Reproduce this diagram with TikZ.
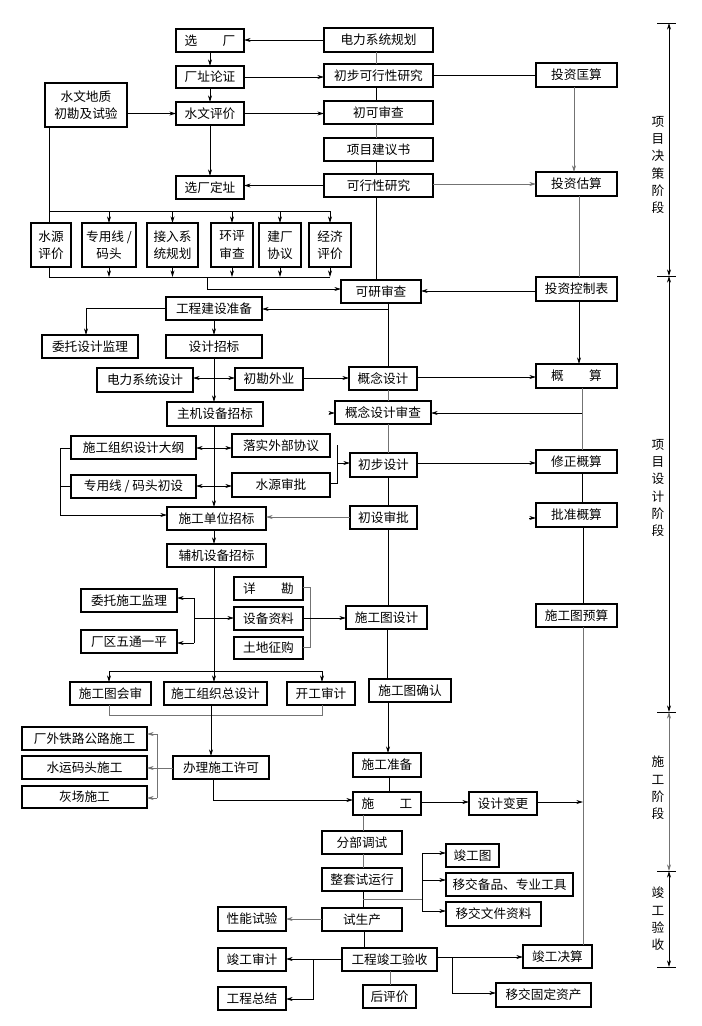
\documentclass[tikz,border=0pt]{standalone}
\usepackage{fontspec}
\setmainfont{Noto Sans CJK SC}
\usetikzlibrary{arrows.meta}
\newcommand\bxfont{\fontsize{9.5}{13}\selectfont}
\newcommand\bx[6]{\node[box,minimum width={(#4-#2)*0.75pt},minimum height={(#5-#3)*0.75pt}] (#1) at ({(#2+#4)/2},{(#3+#5)/2}) {#6};}
\tikzset{
  box/.style={draw,line width=0.9pt,inner sep=0pt,outer sep=0pt,font=\bxfont,align=center},
  ln/.style={line width=0.6pt},
  gl/.style={draw=black!55},
  arr/.style={ln,-{Stealth[length=5pt,width=3pt]}},
  arrb/.style={ln,{Stealth[length=5pt,width=3pt]}-{Stealth[length=5pt,width=3pt]}},
  side/.style={font=\fontsize{9.5}{13}\selectfont,align=center,inner sep=0pt}
}
\begin{document}
\begin{tikzpicture}[x=0.75pt,y=-0.75pt]
\fill[white] (0,0) rectangle (701,1026);
\useasboundingbox (0,0) rectangle (701,1026);
% ---------- decision phase
\bx{xc}{176}{29}{244}{52}{选\hspace{2em}厂}
\bx{czlz}{176}{66}{244}{88}{厂址论证}
\bx{swdz}{45}{83}{127}{127}{水文地质\\初勘及试验}
\bx{swpj}{176}{102}{244}{125}{水文评价}
\bx{xcdz}{176}{176}{244}{199}{选厂定址}
\bx{dlxtgh}{324}{28}{433}{52}{电力系统规划}
\bx{cbkx}{324}{64}{433}{87}{初步可行性研究}
\bx{cksc}{324}{101}{433}{124}{初可审查}
\bx{xmjy}{324}{138}{433}{161}{项目建议书}
\bx{kxx}{324}{174}{433}{197}{可行性研究}
\bx{tzks}{536}{63}{617}{87}{投资匡算}
\bx{tzgs}{536}{172}{617}{196}{投资估算}
\bx{sypj}{31}{223}{71}{267}{水源\\评价}
\bx{zyx}{82}{223}{136}{267}{专用线 /\\码头}
\bx{jrxt}{147}{223}{198}{267}{接入系\\统规划}
\bx{hpsc}{211}{223}{253}{267}{环评\\审查}
\bx{jcxy}{259}{223}{301}{267}{建厂\\协议}
\bx{jjpj}{309}{223}{351}{267}{经济\\评价}
\bx{kysc}{341}{280}{421}{303}{可研审查}
\bx{tzkzb}{536}{277}{617}{301}{投资控制表}
% ---------- design phase
\bx{gcjs}{166}{297}{262}{320}{工程建设准备}
\bx{wtsj}{42}{335}{138}{358}{委托设计监理}
\bx{sjzb}{166}{335}{262}{358}{设计招标}
\bx{dlsj}{97}{368}{193}{392}{电力系统设计}
\bx{ckwy}{235}{368}{303}{390}{初勘外业}
\bx{gnsj}{349}{367}{417}{390}{概念设计}
\bx{gs}{536}{364}{617}{388}{概\hspace{2em}算}
\bx{zjsb}{167}{402}{263}{426}{主机设备招标}
\bx{gnsc}{335}{401}{431}{424}{概念设计审查}
\bx{sgzzdg}{71}{436}{196}{459}{施工组织设计大纲}
\bx{lswb}{232}{434}{330}{457}{落实外部协议}
\bx{cbsj}{350}{453}{417}{477}{初步设计}
\bx{xzgs}{536}{450}{617}{473}{修正概算}
\bx{zyxcs}{71}{475}{196}{498}{专用线 / 码头初设}
\bx{sysp}{232}{473}{330}{497}{水源审批}
\bx{sgdw}{167}{507}{266}{530}{施工单位招标}
\bx{cssp}{350}{506}{417}{529}{初设审批}
\bx{pzgs}{536}{503}{617}{527}{批准概算}
\bx{fjsb}{167}{544}{266}{567}{辅机设备招标}
\bx{xk}{234}{577}{303}{600}{详\hspace{2em}勘}
\bx{sbzl}{234}{607}{303}{630}{设备资料}
\bx{tdzg}{234}{637}{303}{659}{土地征购}
\bx{wtsg}{81}{589}{177}{612}{委托施工监理}
\bx{cqwt}{81}{630}{177}{653}{厂区五通一平}
\bx{sgtsj}{346}{606}{427}{629}{施工图设计}
\bx{sgtys}{536}{604}{617}{627}{施工图预算}
\bx{sgths}{70}{682}{151}{705}{施工图会审}
\bx{sgzzz}{164}{682}{267}{705}{施工组织总设计}
\bx{kgsj}{287}{682}{355}{705}{开工审计}
\bx{sgtqr}{369}{679}{451}{702}{施工图确认}
% ---------- construction phase
\bx{cwtl}{22}{727}{147}{750}{厂外铁路公路施工}
\bx{sym}{22}{756}{147}{779}{水运码头施工}
\bx{hc}{22}{786}{147}{808}{灰场施工}
\bx{blsg}{173}{756}{269}{779}{办理施工许可}
\bx{sgzb}{353}{753}{421}{777}{施工准备}
\bx{sg}{353}{792}{421}{815}{施\hspace{2em}工}
\bx{sjbg}{469}{792}{537}{815}{设计变更}
% ---------- completion
\bx{fbts}{322}{831}{402}{854}{分部调试}
\bx{ztsy}{322}{868}{402}{891}{整套试运行}
\bx{jgt}{446}{844}{499}{867}{竣工图}
\bx{yjbp}{446}{873}{573}{896}{移交备品、专业工具}
\bx{xnsy}{218}{907}{286}{931}{性能试验}
\bx{ssc}{322}{908}{402}{931}{试生产}
\bx{yjwj}{446}{902}{541}{926}{移交文件资料}
\bx{jgsj}{218}{948}{286}{971}{竣工审计}
\bx{gcjg}{342}{948}{437}{971}{工程竣工验收}
\bx{jgjs}{523}{945}{592}{968}{竣工决算}
\bx{gczj}{218}{987}{286}{1010}{工程总结}
\bx{hpj}{363}{985}{416}{1008}{后评价}
\bx{yjgd}{496}{983}{591}{1007}{移交固定资产}
% ---------- connectors: decision
\draw[arr] (dlxtgh.west) -- (dlxtgh.west -| xc.east);
\draw[arr] (xc.south) -- (czlz.north);
\draw[arr] (czlz.south) -- (swpj.north);
\draw[arr] (swpj.south) -- (xcdz.north);
\draw[arr] (czlz.east) -- (czlz.east -| cbkx.west);
\draw[arr] (swdz.east |- swpj.west) -- (swpj.west);
\draw[arr] (swpj.east) -- (swpj.east -| cksc.west);
\draw[arr] (kxx.west) -- (kxx.west -| xcdz.east);
\draw[ln,gl] (dlxtgh.south -| 376,0) -- (cbkx.north -| 376,0);
\draw[ln] (cbkx.south -| 376,0) -- (cksc.north -| 376,0);
\draw[ln,gl] (cksc.south -| 376,0) -- (xmjy.north -| 376,0);
\draw[ln] (xmjy.south -| 376,0) -- (kxx.north -| 376,0);
\draw[ln] (kxx.south -| 376,0) -- (kysc.north -| 376,0);
\draw[ln] (cbkx.east |- 0,75) -- (tzks.west |- 0,75);
\draw[arr,gl] (tzks.south -| 574,0) -- (tzgs.north -| 574,0);
\draw[arr,gl] (kxx.east |- 0,184) -- (tzgs.west |- 0,184);
\draw[ln,gl] (tzgs.south -| 579,0) -- (tzkzb.north -| 579,0);
\draw[arr] (tzkzb.west |- 0,291) -- (kysc.east |- 0,291);
% row of six
\draw[ln] (swdz.south -| 49,0) -- (sypj.north -| 49,0);
\draw[ln] (49,211) -- (jjpj.north |- 0,211);
\foreach \b in {zyx,jrxt,hpsc,jcxy,jjpj}{
  \draw[arr] (\b.north |- 0,211) -- (\b.north);
  \draw[arr] (\b.south) -- (\b.south |- 0,277);
}
\draw[ln] (sypj.south -| 49,0) -- (49,277) -- (jjpj.south |- 0,277);
\draw[arr] (207,277) -- (207,289) -- (kysc.west |- 0,289);
% ---------- connectors: design
\draw[ln] (kysc.south -| 388,0) -- (gnsj.north -| 388,0);
\draw[arr] (388,309) -- (gcjs.east |- 0,309);
\draw[arr] (gcjs.west |- 0,308) -- (86,308) -- (wtsj.north -| 86,0);
\draw[arr] (gcjs.south -| 214,0) -- (sjzb.north -| 214,0);
\draw[arr] (sjzb.south -| 214,0) -- (zjsb.north -| 214,0);
\draw[arrb] (dlsj.east |- 0,378) -- (ckwy.west |- 0,378);
\draw[arr] (ckwy.east |- 0,378) -- (gnsj.west |- 0,378);
\draw[arr] (gnsj.east |- 0,377) -- (gs.west |- 0,377);
\draw[arr] (tzkzb.south -| 579,0) -- (gs.north -| 579,0);
\draw[ln,gl] (gs.south -| 582,0) -- (xzgs.north -| 582,0);
\draw[arr] (582,413) -- (gnsc.east |- 0,413);
\draw[arr] (329,413) -- (gnsc.west |- 0,413);
\draw[ln,gl] (gnsj.south -| 388,0) -- (gnsc.north -| 388,0);
\draw[ln,gl] (gnsc.south -| 388,0) -- (cbsj.north -| 388,0);
\draw[ln] (cbsj.south -| 388,0) -- (cssp.north -| 388,0);
\draw[ln] (cssp.south -| 388,0) -- (sgtsj.north -| 388,0);
\draw[arr] (zjsb.south -| 214,0) -- (sgdw.north -| 214,0);
\draw[arrb] (sgzzdg.east |- 0,448) -- (lswb.west |- 0,448);
\draw[arrb] (zyxcs.east |- 0,486) -- (sysp.west |- 0,486);
\draw[arr] (sgzzdg.west |- 0,448) -- (60,448) -- (60,515) -- (sgdw.west |- 0,515);
\draw[ln] (zyxcs.west |- 0,486) -- (60,486);
\draw[ln] (337,445) -- (337,483) -- (sysp.east |- 0,483);
\draw[arr] (337,463) -- (cbsj.west |- 0,463);
\draw[arr] (cbsj.east |- 0,463) -- (xzgs.west |- 0,463);
\draw[ln] (xzgs.south -| 582,0) -- (pzgs.north -| 582,0);
\draw[arr] (529,518) -- (pzgs.west |- 0,518);
\draw[arr,gl] (cssp.west |- 0,517) -- (sgdw.east |- 0,517);
\draw[arr] (sgdw.south -| 214,0) -- (fjsb.north -| 214,0);
\draw[arr] (fjsb.south -| 214,0) -- (sgzzz.north -| 214,0);
\draw[ln] (194,598) -- (194,643);
\draw[arr] (194,598) -- (wtsg.east |- 0,598);
\draw[arr] (194,643) -- (cqwt.east |- 0,643);
\draw[arr] (194,618) -- (sbzl.west |- 0,618);
\draw[ln,gl] (xk.east |- 0,587) -- (310,587) -- (310,647) -- (tdzg.east |- 0,647);
\draw[arr] (sbzl.east |- 0,618) -- (sgtsj.west |- 0,618);
\draw[ln] (109,671) -- (322,671);
\draw[arr] (109,671) -- (sgths.north -| 109,0);
\draw[arr] (322,671) -- (kgsj.north -| 322,0);
\draw[ln] (pzgs.south -| 583,0) -- (sgtys.north -| 583,0);
\draw[ln] (sgtsj.south -| 387,0) -- (sgtqr.north -| 387,0);
% ---------- connectors: construction
\draw[ln,gl] (sgths.south -| 109,0) -- (109,715) -- (322,715) -- (kgsj.south -| 322,0);
\draw[arr] (sgzzz.south -| 211,0) -- (blsg.north -| 211,0);
\draw[ln,gl] (blsg.west |- 0,768) -- (157,768);
\draw[ln,gl] (157,734) -- (157,798);
\draw[arr,gl] (157,734) -- (cwtl.east |- 0,734);
\draw[arr,gl] (157,768) -- (sym.east |- 0,768);
\draw[arr,gl] (157,798) -- (hc.east |- 0,798);
\draw[arr] (blsg.south -| 213,0) -- (213,800) -- (sg.west |- 0,800);
\draw[arr] (sgtqr.south -| 388,0) -- (sgzb.north -| 388,0);
\draw[ln] (sgzb.south -| 389,0) -- (sg.north -| 389,0);
\draw[arr] (sg.east |- 0,802) -- (sjbg.west |- 0,802);
\draw[ln,gl] (sgtys.south -| 583,0) -- (jgjs.north -| 583,0);
\draw[arr] (sjbg.east |- 0,802) -- (583,802);
% ---------- connectors: completion
\draw[ln,gl] (sg.south -| 363,0) -- (fbts.north -| 363,0);
\draw[ln,gl] (fbts.south -| 363,0) -- (ztsy.north -| 363,0);
\draw[ln] (ztsy.south -| 363,0) -- (ssc.north -| 363,0);
\draw[ln] (ssc.south -| 364,0) -- (gcjg.north -| 364,0);
\draw[ln,gl] (363,899) -- (422,899);
\draw[ln] (422,853) -- (422,911);
\draw[arr] (422,853) -- (jgt.west |- 0,853);
\draw[arr] (422,880) -- (yjbp.west |- 0,880);
\draw[arr] (422,911) -- (yjwj.west |- 0,911);
\draw[arr,gl] (ssc.west |- 0,919) -- (xnsy.east |- 0,919);
\draw[arr] (gcjg.west |- 0,959) -- (jgsj.east |- 0,959);
\draw[arr] (313,959) -- (313,999) -- (gczj.east |- 0,999);
\draw[ln,gl] (gcjg.south -| 390,0) -- (hpj.north -| 390,0);
\draw[arr] (gcjg.east |- 0,957) -- (jgjs.west |- 0,957);
\draw[arr] (452,957) -- (452,993) -- (yjgd.west |- 0,993);
% ---------- side scale
\foreach \t in {23,276,712,871,967}{\draw[ln] (657,\t) -- (676,\t);}
\draw[arrb] (669,23) -- (669,276);
\draw[arrb] (669,276) -- (669,712);
\draw[arrb,gl] (669,712) -- (669,871);
\draw[arrb] (669,871) -- (669,967);
\node[side] (ph1) at (658,165) {项\\目\\决\\策\\阶\\段};
\node[side] (ph2) at (658,488) {项\\目\\设\\计\\阶\\段};
\node[side] (ph3) at (658,788) {施\\工\\阶\\段};
\node[side] (ph4) at (658,919) {竣\\工\\验\\收};
\end{tikzpicture}
\end{document}
